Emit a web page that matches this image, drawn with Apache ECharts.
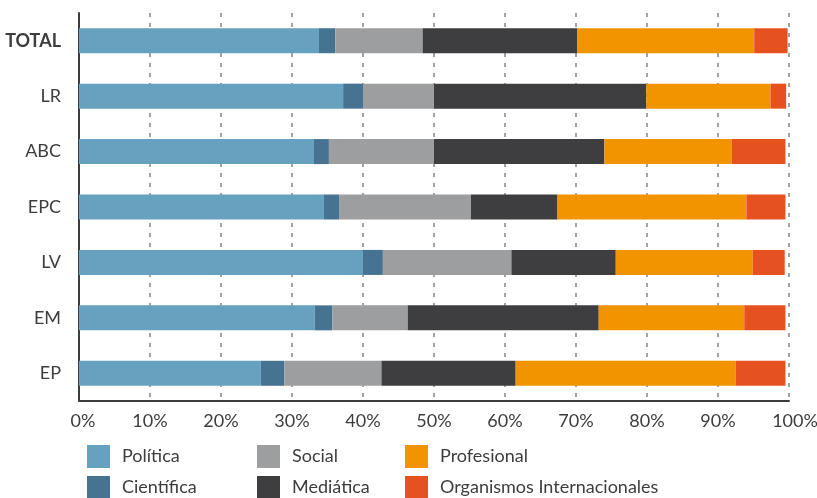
<!DOCTYPE html>
<html>
<head>
<meta charset="utf-8">
<script src="https://cdn.jsdelivr.net/npm/echarts@6/dist/echarts.min.js"></script>
<style>
html,body{margin:0;padding:0;background:#fff;}
#chart{width:817px;height:498px;}
</style>
</head>
<body>
<div id="chart"></div>
<script>
const categories = ['TOTAL', 'LR', 'ABC', 'EPC', 'LV', 'EM', 'EP'];
const politica      = [33.8, 37.2, 33.1, 34.5, 40.0, 33.2, 25.6];
const cientifica    = [2.3, 2.8, 2.1, 2.2, 2.8, 2.5, 3.3];
const social        = [12.3, 10.0, 14.8, 18.5, 18.1, 10.6, 13.7];
const mediatica     = [21.8, 29.9, 24.0, 12.2, 14.7, 26.9, 18.9];
const profesional   = [24.9, 17.5, 17.9, 26.6, 19.3, 20.5, 31.0];
const organismos    = [4.7, 2.2, 7.6, 5.5, 4.5, 5.8, 7.0];
const xTicks = [0, 10, 20, 30, 40, 50, 60, 70, 80, 90, 100];

const seriesDefs = [
  ['Política', politica, '#67a1c0'],
  ['Científica', cientifica, '#457391'],
  ['Social', social, '#9d9ea0'],
  ['Mediática', mediatica, '#3e3e41'],
  ['Profesional', profesional, '#f29400'],
  ['Organismos Internacionales', organismos, '#e65120']
];

const FONT = 'Lato';
const TXT = '#3d3d3d';

// legend layout: 3 columns x 2 rows
const legendCols = [87, 257, 405];
const legendRows = [445, 476];
const legendOrder = [
  ['Política', 0, 0], ['Científica', 0, 1],
  ['Social', 1, 0], ['Mediática', 1, 1],
  ['Profesional', 2, 0], ['Organismos Internacionales', 2, 1]
];

const legends = legendOrder.map(([name, c, r]) => ({
  left: legendCols[c],
  top: legendRows[r],
  itemWidth: 23,
  itemHeight: 23,
  icon: 'rect',
  padding: 0,
  data: [name],
  textStyle: {fontFamily: FONT, fontSize: 18, color: TXT, padding: [0, 0, 0, 7]}
}));

const labelRich = {
  n: {fontFamily: FONT, fontSize: 18, color: TXT},
  z: {fontFamily: FONT, fontSize: 18, color: TXT, padding: [0, 0, 0, 8]},
  m: {fontFamily: FONT, fontSize: 18, color: TXT, padding: [0, 0, 0, 12]}
};

const chart = echarts.init(document.getElementById('chart'), null, {renderer: 'canvas'});
chart.setOption({
  animation: false,
  backgroundColor: '#fff',
  grid: {left: 79, right: 28, top: 13, bottom: 97, containLabel: false, outerBoundsMode: 'none'},
  legend: legends,
  xAxis: {
    type: 'value',
    min: xTicks[0],
    max: xTicks[xTicks.length - 1],
    interval: 10,
    axisLine: {show: true, onZero: false, lineStyle: {color: '#3d3d3d', width: 2}},
    axisTick: {show: false},
    axisLabel: {
      fontFamily: FONT, fontSize: 18, color: TXT, margin: 11,
      formatter: v => v === 0 ? '{z|0%}' : (v === 100 ? '{m|100%}' : '{n|' + v + '%}'),
      rich: labelRich
    },
    splitLine: {show: true, lineStyle: {color: '#a3a3a3', width: 2, type: [4, 6]}}
  },
  yAxis: {
    type: 'category',
    data: categories,
    inverse: true,
    axisLine: {show: true, lineStyle: {color: '#3d3d3d', width: 2}},
    axisTick: {show: false},
    axisLabel: {
      fontFamily: FONT, fontSize: 18, color: TXT, margin: 18,
      formatter: v => v === 'TOTAL' ? '{b|' + v + '}' : v,
      rich: {b: {fontFamily: FONT, fontSize: 18, fontWeight: 'bold', color: TXT}}
    }
  },
  series: seriesDefs.map(([name, data, color]) => ({
    name: name,
    type: 'bar',
    stack: 'all',
    data: data,
    barWidth: 25,
    itemStyle: {color: color},
    emphasis: {disabled: true}
  }))
});
</script>
</body>
</html>
